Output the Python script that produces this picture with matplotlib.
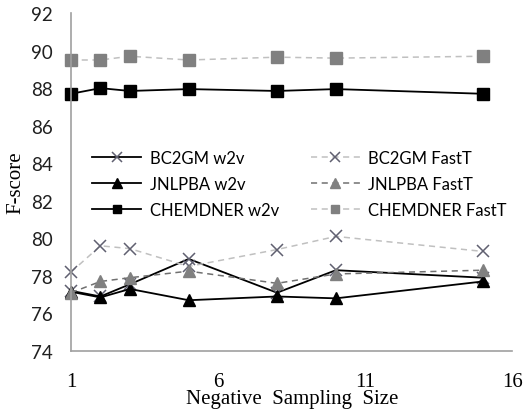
import matplotlib.pyplot as plt

x = [1, 2, 3, 5, 8, 10, 15]
bc2gm_w2v = [77.2, 76.9, 77.55, 78.9, 77.1, 78.3, 77.9]
jnlpba_w2v = [77.15, 76.85, 77.3, 76.7, 76.9, 76.8, 77.7]
chemdner_w2v = [87.7, 88.0, 87.85, 87.95, 87.85, 87.95, 87.7]
bc2gm_fast = [78.2, 79.6, 79.45, 78.5, 79.4, 80.1, 79.3]
jnlpba_fast = [77.1, 77.7, 77.9, 78.25, 77.6, 78.1, 78.3]
chemdner_fast = [89.5, 89.5, 89.7, 89.5, 89.65, 89.6, 89.7]

fig = plt.figure(figsize=(5.28, 4.14), dpi=100)
ax = fig.add_axes([0.1345, 0.150, 0.836, 0.816])

ax.plot(x, bc2gm_w2v, color='black', lw=1.3, marker='x', ms=9, mec='#606070', mew=1.1, label='BC2GM w2v')
ax.plot(x, jnlpba_w2v, color='black', lw=1.3, marker='^', ms=9, mfc='black', mec='black', label='JNLPBA w2v')
ax.plot(x, chemdner_w2v, color='black', lw=1.3, marker='s', ms=8, mfc='black', mec='black', label='CHEMDNER w2v')
ax.plot(x, bc2gm_fast, color='#c0c0c0', lw=1.1, ls=(0, (4, 3)), marker='x', ms=9, mec='#606070', mew=1.1, label='BC2GM FastT')
ax.plot(x, jnlpba_fast, color='#707070', lw=1.1, ls=(0, (4, 3)), marker='^', ms=9, mfc='#808080', mec='#808080', label='JNLPBA FastT')
ax.plot(x, chemdner_fast, color='#c0c0c0', lw=1.1, ls=(0, (4, 3)), marker='s', ms=8, mfc='#808080', mec='#808080', label='CHEMDNER FastT')

ax.set_xlim(1, 16)
ax.set_ylim(74, 92)
ax.set_xticks([1, 6, 11, 16])
ax.set_yticks(range(74, 93, 2))
ax.tick_params(length=0)
ax.tick_params(axis='y', labelsize=13.5, pad=13)
for lab in ax.get_yticklabels():
    lab.set_family('Lato')
    lab.set_color('#202020')
for lab in ax.get_xticklabels():
    lab.set_family('Liberation Serif')
    lab.set_fontsize(15)
ax.tick_params(axis='x', pad=15)
for s in ['top', 'right']:
    ax.spines[s].set_visible(False)
for s in ['left', 'bottom']:
    ax.spines[s].set_color('#a0a0a0')
    ax.spines[s].set_linewidth(1.2)
for line in ax.lines:
    line.set_clip_on(False)

ax.set_xlabel('Negative  Sampling  Size', family='Liberation Serif', fontsize=15, labelpad=-1)
ax.set_ylabel('F-score', family='Liberation Serif', fontsize=15, labelpad=4)

ax.legend(loc='upper left', bbox_to_anchor=(0.014, 0.64), ncol=2, frameon=False,
          markerscale=0.8, handlelength=2.95, handletextpad=0.5, columnspacing=1.9,
          labelspacing=0.6, prop={'family': 'Lato', 'size': 12})

plt.savefig('out.png')
